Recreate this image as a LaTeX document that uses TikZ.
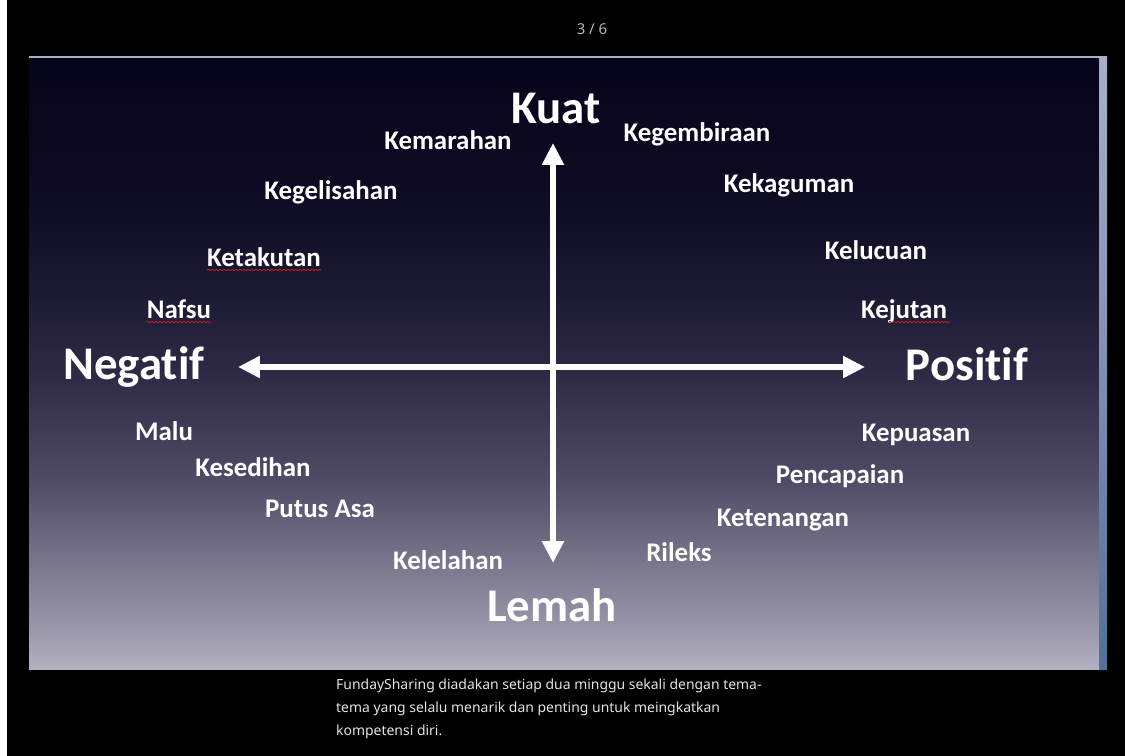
\documentclass[tikz,border=0pt]{standalone}
\usepackage{fontspec}
\newfontfamily\slidefont[Ligatures=NoCommon]{Carlito}
\newfontfamily\capfont{Noto Sans}
\usetikzlibrary{arrows.meta,decorations.pathmorphing}
\definecolor{bgA}{RGB}{6,4,26}
\definecolor{bgB}{RGB}{14,11,36}
\definecolor{bgC}{RGB}{30,27,54}
\definecolor{bgD}{RGB}{48,44,72}
\definecolor{bgE}{RGB}{80,76,104}
\definecolor{bgF}{RGB}{120,116,139}
\definecolor{bgG}{RGB}{155,152,171}
\definecolor{bgH}{RGB}{178,176,192}
\definecolor{edgetop}{RGB}{168,176,200}
\definecolor{edgebot}{RGB}{84,112,152}
\definecolor{spellred}{RGB}{200,30,30}
\definecolor{capgray}{RGB}{228,228,228}
\definecolor{pagegray}{RGB}{185,185,185}

\begin{document}
\begin{tikzpicture}[x=1bp,y=-1bp,
    emo/.style={text=white,inner sep=0pt,anchor=base,
                font=\slidefont\bfseries\fontsize{27}{30}\selectfont},
    pole/.style={text=white,inner sep=0pt,anchor=base,
                 font=\slidefont\bfseries\fontsize{47}{52}\selectfont},
    twoway/.style={draw=white,line width=6pt,
                   {Triangle[length=22pt,width=21pt]}-{Triangle[length=22pt,width=21pt]}},
    spell/.style={draw=spellred,line width=0.8pt,decorate,
                  decoration={snake,amplitude=0.7pt,segment length=4pt}}]

  % screen and slide
  \useasboundingbox (0,0) rectangle (1125,756);
  \fill[black] (-10,-10) rectangle (1135,766);
  \fill[white] (-10,-10) rectangle (7,766);
  \foreach \ya/\yb/\ca/\cb in {57/200/bgA/bgB,200/300/bgB/bgC,300/380/bgC/bgD,
      380/480/bgD/bgE,480/560/bgE/bgF,560/630/bgF/bgG,630/669/bgG/bgH}
    \shade[top color=\ca,bottom color=\cb] (29,\ya) rectangle (1099,\yb+0.6);
  \shade[top color=edgetop,bottom color=edgebot] (1099,57) rectangle (1107,669);
  \draw[line width=1.5pt,color=edgetop] (29,57) -- (1107,57);

  \node[text=pagegray,inner sep=0pt,anchor=base,font=\capfont\bfseries\fontsize{15}{17}\selectfont]
    (page) at (592,35) {3 / 6};

  % axes
  \coordinate (up)    at (553,143);
  \coordinate (down)  at (553,563);
  \coordinate (left)  at (238,367);
  \coordinate (right) at (865,367);
  \draw[twoway] (down) -- (up);
  \draw[twoway] (left) -- (right);

  \node[pole] (kuat)  at (556,123) {Kuat};
  \node[pole] (lemah) at (552,621) {Lemah};
  \node[pole] (neg)   at (134,379) {Negatif};
  \node[pole] (pos)   at (967,380) {Positif};

  % emotions
  \node[emo] (mar)  at (448,149) {Kemarahan};
  \node[emo] (gem)  at (697,141) {Kegembiraan};
  \node[emo] (gel)  at (331,199) {Kegelisahan};
  \node[emo] (kag)  at (789,192) {Kekaguman};
  \node[emo] (tak)  at (264,266) {Ketakutan};
  \node[emo] (luc)  at (876,259) {Kelucuan};
  \node[emo] (naf)  at (179,318) {Nafsu};
  \node[emo] (jut)  at (904,318) {Kejutan};
  \node[emo] (malu) at (164,440) {Malu};
  \node[emo] (pua)  at (916,441) {Kepuasan};
  \node[emo] (sed)  at (253,476) {Kesedihan};
  \node[emo] (pen)  at (840,483) {Pencapaian};
  \node[emo] (put)  at (320,517) {Putus Asa};
  \node[emo] (ten)  at (783,526) {Ketenangan};
  \node[emo] (lel)  at (448,569) {Kelelahan};
  \node[emo] (ril)  at (679,561) {Rileks};

  \draw[spell] ([yshift=-4pt]tak.base west) -- ([yshift=-4pt]tak.base east);
  \draw[spell] ([yshift=-4pt]naf.base west) -- ([yshift=-4pt]naf.base east);
  \draw[spell] ([xshift=28pt,yshift=-4pt]jut.base west) -- ([xshift=3pt,yshift=-4pt]jut.base east);

  \node[text=capgray,inner sep=0pt,anchor=north west,align=left,
        font=\capfont\fontsize{14}{23}\selectfont] (cap) at (336,679)
    {FundaySharing diadakan setiap dua minggu sekali dengan tema-\\
     tema yang selalu menarik dan penting untuk meingkatkan\\
     kompetensi diri.};
\end{tikzpicture}
\end{document}
